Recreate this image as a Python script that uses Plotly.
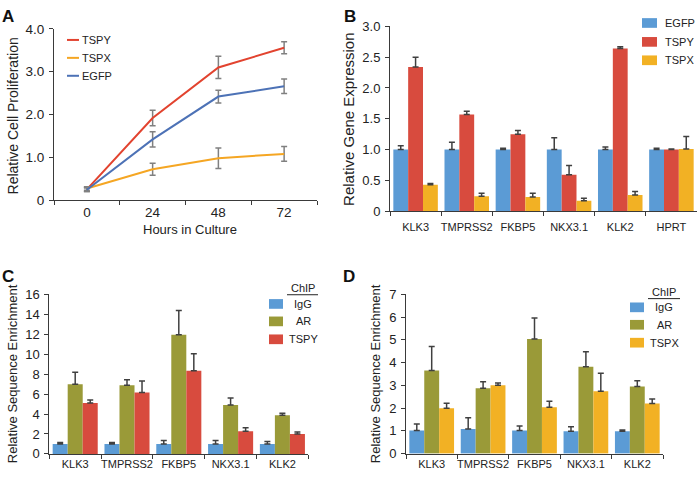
import plotly.graph_objects as go

W, H = 700, 481
FONT = "Liberation Sans, Arial, sans-serif"

# ---------- Panel A data ----------
hours = ["0", "24", "48", "72"]
a_tspy = [0.25, 1.92, 3.10, 3.56]
a_tspy_err = [0.05, 0.18, 0.26, 0.14]
a_tspx = [0.27, 0.72, 0.98, 1.08]
a_tspx_err = [0.04, 0.14, 0.24, 0.17]
a_egfp = [0.24, 1.42, 2.42, 2.66]
a_egfp_err = [0.04, 0.18, 0.15, 0.17]

# ---------- Panel B data ----------
b_genes = ["KLK3", "TMPRSS2", "FKBP5", "NKX3.1", "KLK2", "HPRT"]
b_egfp = [1.0, 1.0, 1.0, 1.0, 1.0, 1.0]
b_egfp_err = [0.06, 0.12, 0.02, 0.19, 0.04, 0.02]
b_tspy = [2.34, 1.57, 1.25, 0.59, 2.64, 1.0]
b_tspy_err = [0.16, 0.05, 0.06, 0.15, 0.03, 0.01]
b_tspx = [0.43, 0.24, 0.23, 0.17, 0.26, 1.01]
b_tspx_err = [0.02, 0.05, 0.06, 0.04, 0.06, 0.20]

# ---------- Panel C data ----------
cd_genes = ["KLK3", "TMPRSS2", "FKBP5", "NKX3.1", "KLK2"]
c_igg = [1.0, 1.0, 1.0, 1.0, 1.0]
c_igg_err = [0.15, 0.15, 0.35, 0.35, 0.25]
c_ar = [7.0, 6.9, 11.95, 4.92, 3.88]
c_ar_err = [1.2, 0.55, 2.45, 0.7, 0.2]
c_tspy = [5.1, 6.17, 8.35, 2.27, 2.0]
c_tspy_err = [0.3, 1.15, 1.7, 0.35, 0.2]

# ---------- Panel D data ----------
d_igg = [1.02, 1.08, 1.02, 0.98, 0.98]
d_igg_err = [0.28, 0.5, 0.2, 0.2, 0.06]
d_ar = [3.66, 2.88, 5.04, 3.82, 2.95]
d_ar_err = [1.05, 0.28, 0.92, 0.66, 0.25]
d_tspx = [2.0, 3.01, 2.04, 2.74, 2.2]
d_tspx_err = [0.22, 0.1, 0.26, 0.8, 0.2]

# colours
L_RED, L_ORANGE, L_BLUE = "#e2432f", "#f5a623", "#4d72b6"
BLUE, RED, ORANGE, OLIVE = "#5b9bd5", "#d84b3e", "#f2b124", "#9a9a38"
AX = "#3a3a3a"
TXT = "#222222"
ERR_A = "#808080"
ERR = "#404040"


def px(x):
    return x / W


def py(y):
    return 1 - y / H


fig = go.Figure()

# Panel A lines
for name, vals, err, col in [("TSPY", a_tspy, a_tspy_err, L_RED),
                             ("TSPX", a_tspx, a_tspx_err, L_ORANGE),
                             ("EGFP", a_egfp, a_egfp_err, L_BLUE)]:
    fig.add_trace(go.Scatter(x=hours, y=vals, mode="lines", name=name,
                             line=dict(color=col, width=2),
                             error_y=dict(type="data", array=err, color=ERR_A,
                                          thickness=1.5, width=3),
                             xaxis="x", yaxis="y", showlegend=False))


def add_bars(cats, series, xa, ya):
    for name, vals, err, col in series:
        fig.add_trace(go.Bar(x=cats, y=vals, name=name, marker=dict(color=col, line=dict(width=0)),
                             error_y=dict(type="data", array=err, arrayminus=[0] * len(err),
                                          symmetric=False, color=ERR, thickness=1.5, width=3),
                             xaxis=xa, yaxis=ya, showlegend=False))


add_bars(b_genes, [("EGFP", b_egfp, b_egfp_err, BLUE),
                   ("TSPY", b_tspy, b_tspy_err, RED),
                   ("TSPX", b_tspx, b_tspx_err, ORANGE)], "x2", "y2")
add_bars(cd_genes, [("IgG", c_igg, c_igg_err, BLUE),
                    ("AR", c_ar, c_ar_err, OLIVE),
                    ("TSPY", c_tspy, c_tspy_err, RED)], "x3", "y3")
add_bars(cd_genes, [("IgG", d_igg, d_igg_err, BLUE),
                    ("AR", d_ar, d_ar_err, OLIVE),
                    ("TSPX", d_tspx, d_tspx_err, ORANGE)], "x4", "y4")


def xax(dom, anchor, size, standoff=0):
    return dict(domain=dom, anchor=anchor, type="category", showline=True, linecolor=AX,
                linewidth=1, ticks="outside", tickson="boundaries", ticklen=4,
                tickcolor=AX, showgrid=False, zeroline=False, tickangle=0,
                ticklabelstandoff=standoff,
                tickfont=dict(size=size, color=TXT, family=FONT), fixedrange=True)


def yax(dom, anchor, rng, dtick, size, fmt):
    return dict(domain=dom, anchor=anchor, range=rng, dtick=dtick, showline=True,
                linecolor=AX, linewidth=1, ticks="outside", ticklen=4, tickcolor=AX,
                showgrid=False, zeroline=False, tickformat=fmt, ticklabelstandoff=2,
                tickfont=dict(size=size, color=TXT, family=FONT), fixedrange=True)


yA = yax([py(199.3), py(22.7)], "x", [0, 4], 1, 13.5, ".1f")
yA.update(tickmode="array", tickvals=[0, 1, 2, 3, 4], ticktext=["0", "1.0", "2.0", "3.0", "4.0"])
yB = yax([py(210.7), py(20)], "x2", [0, 3], 0.5, 13, ".1f")
yB.update(tickmode="array", tickvals=[0, 0.5, 1, 1.5, 2, 2.5, 3],
          ticktext=["0", "0.5", "1.0", "1.5", "2.0", "2.5", "3.0"])

xA = xax([px(54), px(317)], "y", 13.5)
xA.update(range=[-0.5, 3.5])

fig.update_layout(
    width=W, height=H, margin=dict(l=0, r=0, t=0, b=0),
    paper_bgcolor="white", plot_bgcolor="white",
    font=dict(family=FONT, color=TXT),
    barmode="group", bargap=0.13, bargroupgap=0,
    xaxis=xA, yaxis=yA,
    xaxis2=xax([px(390), px(697)], "y2", 11, standoff=6), yaxis2=yB,
    xaxis3=xax([px(49.3), px(308.3)], "y3", 11),
    yaxis3=yax([py(461.3), py(296.7)], "x3", [0, 16], 2, 13, "d"),
    xaxis4=xax([px(406), px(663)], "y4", 11),
    yaxis4=yax([py(461), py(296.7)], "x4", [0, 7], 1, 13, "d"),
)

ann = []
shapes = []


def text(x, y, s, size, xanchor="center", angle=0, bold=False):
    ann.append(dict(x=px(x), y=py(y), xref="paper", yref="paper", text=("<b>%s</b>" % s) if bold else s,
                    showarrow=False, xanchor=xanchor, yanchor="middle", textangle=angle,
                    font=dict(size=size, family=FONT, color="#111111" if bold else TXT)))


# panel letters
text(8, 10, "A", 17, bold=True)
text(350, 10, "B", 17, bold=True)
text(8, 278, "C", 17, bold=True)
text(349, 278, "D", 17, bold=True)

# axis titles
text(13, 113, "Relative Cell Proliferation", 14, angle=-90)
text(190, 230, "Hours in Culture", 13)
text(348.5, 116, "Relative Gene Expression", 15, angle=-90)
text(12, 379, "Relative Sequence Enrichment", 13, angle=-90)
text(375, 379, "Relative Sequence Enrichment", 13, angle=-90)

# legend A (lines)
for yy, name, col in [(34, "TSPY", L_RED), (52.5, "TSPX", L_ORANGE), (71, "EGFP", L_BLUE)]:
    shapes.append(dict(type="line", xref="paper", yref="paper", x0=px(67), x1=px(79),
                       y0=py(yy), y1=py(yy), line=dict(color=col, width=2)))
    text(79.5, yy, name, 11, xanchor="left")

# legend B (squares)
for yy, name, col in [(16.5, "EGFP", BLUE), (36, "TSPY", RED), (55, "TSPX", ORANGE)]:
    shapes.append(dict(type="rect", xref="paper", yref="paper", x0=px(642), x1=px(657),
                       y0=py(yy - 5), y1=py(yy + 5), fillcolor=col, line=dict(width=0)))
    text(663, yy, name, 11, xanchor="left")


def chip_legend(sqx0, sqx1, tcx, chip_y, line_x0, line_x1, items):
    text(tcx, chip_y, "ChIP", 11)
    shapes.append(dict(type="line", xref="paper", yref="paper", x0=px(line_x0), x1=px(line_x1),
                       y0=py(chip_y + 7), y1=py(chip_y + 7), line=dict(color="#222222", width=1)))
    for yy, name, col in items:
        shapes.append(dict(type="rect", xref="paper", yref="paper", x0=px(sqx0), x1=px(sqx1),
                           y0=py(yy - 5), y1=py(yy + 5), fillcolor=col, line=dict(width=0)))
        text(tcx, yy, name, 11)


chip_legend(269, 283, 303, 290, 287, 318,
            [(306.5, "IgG", BLUE), (324.5, "AR", OLIVE), (343, "TSPY", RED)])
chip_legend(630, 644, 664, 294, 648, 680,
            [(310, "IgG", BLUE), (328, "AR", OLIVE), (346.5, "TSPX", ORANGE)])

fig.update_layout(annotations=ann, shapes=shapes)
fig.write_html("out.html", config={"displayModeBar": False},
               post_script="document.body.style.margin='0';document.body.style.overflow='hidden';")
